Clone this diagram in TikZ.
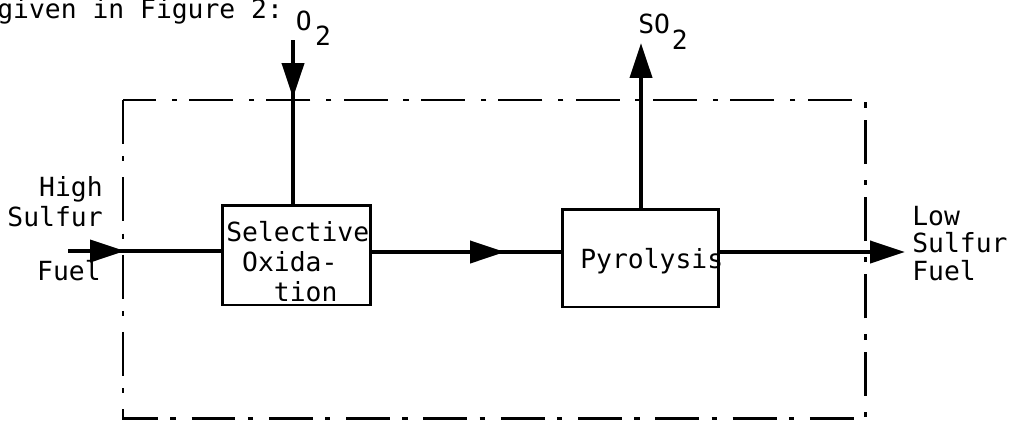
\documentclass[tikz,border=0pt]{standalone}
\usepackage{fontspec}
\setmonofont{DejaVu Sans Mono}
\usetikzlibrary{arrows.meta}

\begin{document}
\begin{tikzpicture}[
    x=0.02cm, y=-0.02cm,
    unit/.style={rectangle, draw, line width=1.7pt, inner sep=0pt},
    txt/.style={inner sep=0pt, font=\ttfamily\fontsize{15}{17}\selectfont},
    pipe/.style={line width=2.3pt},
    flow/.style={pipe, -{Triangle[length=7mm, width=4.4mm]}},
    boundary/.style={line width=1.7pt, dash pattern=on 25pt off 7pt on 3pt off 9pt}
]
    \useasboundingbox (0,0) rectangle (1021,423);

    % Text above the figure
    \node[txt, anchor=base west] (caption) at (-3,18) {given in Figure 2:};

    % System boundary
    \draw[boundary] (123,100) rectangle (865,418);

    % Units
    \node[unit, minimum width=2.98cm, minimum height=2cm] (sel) at (296.5,255) {};
    \node[unit, minimum width=3.14cm, minimum height=1.96cm] (pyro) at (640.5,258) {};
    \node[txt, anchor=north west, align=left] (selText) at (226,221) {Selective\\\hphantom{x}Oxida-\\\hphantom{xxx}tion};
    \node[txt, anchor=base west] (pyroText) at (580,268) {Pyrolysis};

    % Stream ends
    \coordinate (in) at (68,251);
    \coordinate (inTip) at (125,251);
    \coordinate (midTip) at (505,252);
    \coordinate (outTip) at (905,252);
    \coordinate (o2) at (293,40);
    \coordinate (o2Tip) at (293,98);
    \coordinate (so2Tip) at (641,43);

    % Streams
    \draw[pipe] (in) -- (sel.west |- in);
    \draw[flow] (in) -- (inTip);
    \draw[pipe] (sel.east |- midTip) -- (pyro.west |- midTip);
    \draw[flow] (sel.east |- midTip) -- (midTip);
    \draw[flow] (pyro.east |- outTip) -- (outTip);
    \draw[pipe] (o2) -- (sel.north -| o2);
    \draw[flow] (o2) -- (o2Tip);
    \draw[flow] (pyro.north -| so2Tip) -- (so2Tip);

    % Stream labels
    \node[txt, anchor=base west] (o2Label) at (295.5,30) {O\hspace{2pt}\raisebox{-9pt}{2}};
    \node[txt, anchor=base west] (so2Label) at (638,33) {SO\hspace{1pt}\raisebox{-9.5pt}{2}};
    \node[txt, anchor=north east, align=right] (highLabel) at (103,176) {High\\Sulfur};
    \node[txt, anchor=north east] (fuelIn) at (101,260) {Fuel};
    \node[txt, anchor=north west, align=left, font=\ttfamily\fontsize{15}{15.5}\selectfont] (lowLabel) at (912,206) {Low\\Sulfur\\Fuel};
\end{tikzpicture}
\end{document}
